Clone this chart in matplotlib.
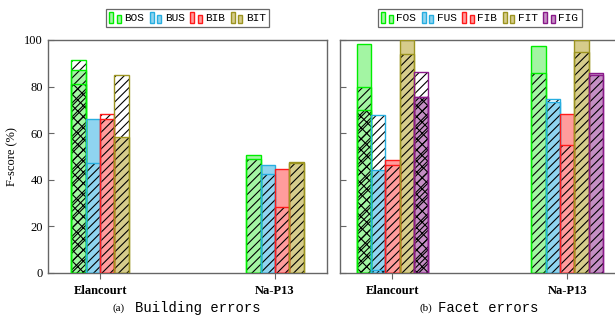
#!/usr/bin/env python3
# -*- coding: utf-8 -*-

import numpy as np
import matplotlib
matplotlib.use("Agg")
import matplotlib.pyplot as plt
from matplotlib.patches import Rectangle
from matplotlib.legend_handler import HandlerBase


# data (F-score in %), one value per site: Elancourt, Na-P13
sites = ["Elancourt", "Na-P13"]

building_names = ["BOS", "BUS", "BIB", "BIT"]
building_fill = [[87.0, 50.7], [66.0, 46.4], [66.0, 44.7], [58.5, 47.5]]
building_hatch = [[91.5, 48.7], [47.0, 42.5], [68.0, 28.4], [85.0, 47.0]]
building_cross = [[81.0, None], [None, None], [None, None], [None, None]]

facet_names = ["FOS", "FUS", "FIB", "FIT", "FIG"]
facet_fill = [[98.3, 97.4], [44.3, 73.4], [48.3, 68.0], [100.0, 100.0], [75.3, 85.9]]
facet_hatch = [[79.6, 85.6], [67.7, 74.6], [46.1, 54.7], [94.0, 94.7], [86.4, 84.9]]
facet_cross = [[69.8, None], [1.0, None], [None, None], [None, None], [75.3, None]]

edge_colors = ["#00ee00", "#27aee0", "#ff1a1a", "#9c9420", "#8a1a8a"]
fill_colors = ["#a3f5a3", "#8fd4f0", "#ff9c9c", "#d6cc8c", "#c48fc4"]

plt.rcParams['hatch.linewidth'] = 0.8
plt.rcParams['hatch.color'] = 'black'

serif = ['Liberation Serif', 'DejaVu Serif']
mono = ['Liberation Mono', 'DejaVu Sans Mono']
frame = '#666666'
bar_w = 0.082


class TwoBars(HandlerBase):
    def __init__(self, ec, fc):
        super().__init__()
        self.ec = ec
        self.fc = fc

    def create_artists(self, legend, orig_handle, xdescent, ydescent,
                       width, height, fontsize, trans):
        w = width * 0.33
        r1 = Rectangle((-xdescent, -ydescent - 1), w, height * 1.25,
                       fc=self.fc, ec=self.ec, lw=1.0, transform=trans)
        r2 = Rectangle((-xdescent + width * 0.6, -ydescent - 1), w, height * 0.95,
                       fc=self.fc, ec=self.ec, lw=1.0, transform=trans)
        return [r1, r2]


def draw_panel(ax, names, fills, hatches, crosses):
    n = len(names)
    x = np.arange(len(sites))
    for i in range(n):
        xi = x + (i - (n - 1) / 2) * bar_w
        ec, fc = edge_colors[i], fill_colors[i]
        for j in range(len(sites)):
            ax.bar(xi[j], fills[i][j], bar_w, color=fc, lw=0, zorder=2)
            ax.bar(xi[j], hatches[i][j], bar_w, facecolor='none', edgecolor='black',
                   hatch='////', lw=0, zorder=3)
            if crosses[i][j] is not None:
                ax.bar(xi[j], crosses[i][j], bar_w, facecolor='none', edgecolor='black',
                       hatch='xxx', lw=0, zorder=3)
            tops = [fills[i][j], hatches[i][j]]
            if crosses[i][j] is not None:
                tops.append(crosses[i][j])
            for t in tops:
                ax.bar(xi[j], t, bar_w, fill=False, edgecolor=ec, lw=1.0, zorder=4)
    ax.set_xlim(-0.3, 1.3)
    ax.set_ylim(0, 100)
    ax.set_xticks(x)
    ax.set_xticklabels(sites, fontfamily=serif, fontweight='bold', fontsize=9)
    ax.set_yticks(np.arange(0, 101, 20))
    ax.tick_params(axis='y', direction='in', length=4, color=frame, labelsize=9)
    ax.tick_params(axis='x', direction='out', length=4, color=frame, pad=5)
    for s in ax.spines.values():
        s.set_color(frame)
        s.set_linewidth(1.0)
    for lab in ax.get_yticklabels():
        lab.set_fontfamily(serif)

    handles = [Rectangle((0, 0), 1, 1) for _ in names]
    hmap = {h: TwoBars(edge_colors[k], fill_colors[k]) for k, h in enumerate(handles)}
    leg = ax.legend(handles, names, handler_map=hmap, ncol=n, loc='lower center',
                    bbox_to_anchor=(0.5, 1.055), frameon=True, fancybox=False,
                    prop={'family': mono, 'size': 8}, handlelength=1.1,
                    handleheight=0.9, handletextpad=0.25, columnspacing=0.5,
                    borderpad=0.35, borderaxespad=0)
    leg.get_frame().set_edgecolor('#444444')
    leg.get_frame().set_linewidth(0.9)


fig = plt.figure(figsize=(6.15, 3.18), dpi=100)
ax1 = fig.add_axes([0.0776, 0.1425, 0.4546, 0.7318])
ax2 = fig.add_axes([0.5528, 0.1425, 0.4546, 0.7318])

draw_panel(ax1, building_names, building_fill, building_hatch, building_cross)
draw_panel(ax2, facet_names, facet_fill, facet_hatch, facet_cross)
ax2.set_yticklabels([])

ax1.set_ylabel("F-score (%)", fontfamily=serif, fontsize=9, labelpad=4)

fig.text(0.193, 0.031, "(a)", fontfamily=serif, fontsize=8, ha='center', va='center')
fig.text(0.322, 0.031, "Building errors", fontfamily=mono, fontsize=10, ha='center', va='center')
fig.text(0.693, 0.031, "(b)", fontfamily=serif, fontsize=8, ha='center', va='center')
fig.text(0.794, 0.031, "Facet errors", fontfamily=mono, fontsize=10, ha='center', va='center')

fig.savefig("out.png", dpi=100)
